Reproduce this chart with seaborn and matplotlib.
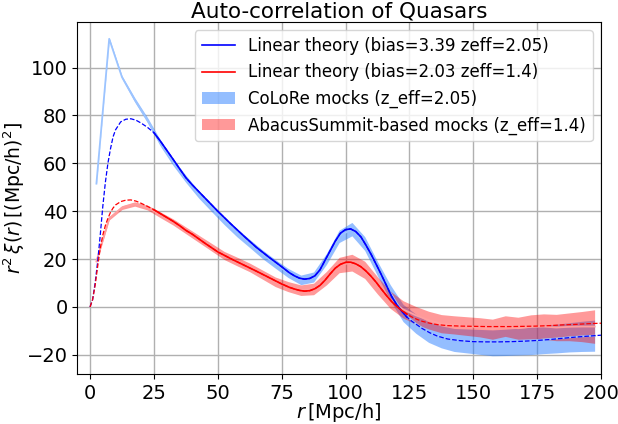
import numpy as np
import pandas as pd
import seaborn as sns
import matplotlib
matplotlib.use("Agg")
import matplotlib.pyplot as plt

# linear theory curves
r_theory = [0, 1, 2, 3, 4, 5, 6, 7, 8, 9, 10, 12, 14, 16, 18, 20, 22.5, 25,
            27.5, 30, 32.5, 35, 37.5, 40, 45, 50, 55, 60, 65, 70, 75, 78, 80,
            82, 84, 86, 88, 90, 92, 94, 96, 98, 100, 102, 104, 106, 108, 110,
            112, 114, 116, 118, 120, 122, 124, 126, 128, 130, 133, 136, 140,
            145, 150, 155, 160, 165, 170, 175, 180, 185, 190, 195, 200]
xi_colore_theory = [0, 3, 10, 19, 30, 42, 52, 60, 66, 71, 74, 77.3, 78.4, 78.6,
                    78, 76.8, 75, 72.8, 69.3, 65.5, 61.7, 57.8, 54, 51, 45.5,
                    40, 34.8, 29.8, 25, 20.8, 16.8, 14.3, 13, 12, 11.6, 11.9,
                    13, 15.5, 19.5, 23.5, 27.5, 30.8, 32.3, 32.6, 31.5, 29.3,
                    25.8, 22, 17.8, 13.5, 9, 4.5, 1, -1.8, -4.2, -6, -7.5, -9,
                    -10.8, -12.2, -13.4, -14.1, -14.5, -14.6, -14.6, -14.5,
                    -14.3, -14.0, -13.6, -13.1, -12.6, -12.2, -11.8]
xi_abacus_theory = [0, 3, 9, 17, 24.5, 30, 34, 37, 39.5, 41.3, 42.6, 44, 44.6,
                    44.7, 44.2, 43.3, 42, 40.6, 39, 37.4, 35.8, 34, 32, 30.4,
                    26.6, 23, 20.2, 17.6, 15, 12.3, 9.6, 8.2, 7.5, 6.9, 6.6,
                    6.8, 7.6, 9, 11.2, 13.8, 16.2, 17.8, 18.6, 18.7, 18, 16.8,
                    15, 12.8, 10.3, 7.5, 4.8, 2.3, 0.3, -1.5, -3, -4.2, -5.2,
                    -6, -6.8, -7.4, -7.8, -8, -8.1, -8.2, -8.2, -8.2, -8.1,
                    -8.0, -7.8, -7.5, -7.3, -7.0, -6.8]

# mock measurements, 5 Mpc/h bins
r_mocks = [2.5, 7.5, 12.5, 17.5, 22.5, 27.5, 32.5, 37.5, 42.5, 47.5, 52.5,
           57.5, 62.5, 67.5, 72.5, 77.5, 82.5, 87.5, 92.5, 97.5, 102.5, 107.5,
           112.5, 117.5, 122.5, 127.5, 132.5, 137.5, 142.5, 147.5, 152.5,
           157.5, 162.5, 167.5, 172.5, 177.5, 182.5, 187.5, 192.5, 197.5]
xi_colore = [51.5, 112, 96, 86.5, 78, 68.5, 60.5, 53.5, 47, 41.5, 36, 31,
             26.5, 22, 18, 14.2, 11.3, 12.5, 20, 29.5, 32.5, 26.5, 16, 6,
             -2.5, -7, -10.5, -12.5, -13.8, -14.2, -14.6, -15, -14.8, -14.5,
             -14.2, -13.6, -13.2, -12.7, -12.3, -12]
err_colore = [0.4, 0.5, 0.6, 0.9, 1.1, 1.3, 1.4, 1.5, 1.5, 1.6, 1.6, 1.7, 1.7,
              1.8, 1.8, 1.9, 2.0, 2.1, 2.3, 2.6, 2.8, 2.9, 3.0, 3.3, 3.6, 4.0,
              4.3, 4.6, 4.8, 5.0, 5.2, 5.4, 5.5, 5.6, 5.7, 5.9, 6.0, 6.1, 6.3,
              6.5]
xi_abacus = [19, 37, 41.5, 43, 41.5, 38.5, 35.5, 32, 28.5, 25, 21.5, 19, 16.5,
             13.5, 10.5, 8.5, 7, 7.5, 12, 17.5, 18.5, 15.5, 9, 3, -1, -3.5,
             -5.5, -7, -7.5, -8, -8.5, -9.3, -8.0, -8.9, -8.3, -8.2, -8.6,
             -8.3, -8.2, -8.2]
err_abacus = [0.6, 0.7, 0.8, 0.9, 1.0, 1.2, 1.3, 1.4, 1.5, 1.6, 1.7, 1.8, 1.8,
              1.9, 2.0, 2.1, 2.2, 2.4, 2.8, 3.2, 3.5, 3.6, 3.6, 3.6, 3.6, 3.7,
              3.7, 3.8, 3.8, 3.9, 4.0, 4.2, 4.3, 4.6, 5.0, 5.3, 5.5, 5.8, 6.3,
              7.0]

x_ticks = [0, 25, 50, 75, 100, 125, 150, 175, 200]
y_ticks = [-20, 0, 20, 40, 60, 80, 100]

fit_min, fit_max = 25, 125

theory = pd.DataFrame({"r": r_theory,
                       "colore": xi_colore_theory,
                       "abacus": xi_abacus_theory})
fit = theory[(theory.r >= fit_min) & (theory.r <= fit_max)]
mocks = pd.DataFrame({"r": r_mocks,
                      "colore": xi_colore, "colore_err": err_colore,
                      "abacus": xi_abacus, "abacus_err": err_abacus})

fig = plt.figure(figsize=(6.18, 4.24), dpi=100)
ax = fig.add_axes([0.125, 0.118, 0.8475, 0.83])

# solid theory in the fit range (these give the legend entries)
sns.lineplot(data=fit, x="r", y="colore", color="blue", lw=1.2, ax=ax,
             label="Linear theory (bias=3.39 zeff=2.05)", zorder=4)
sns.lineplot(data=fit, x="r", y="abacus", color="red", lw=1.2, ax=ax,
             label="Linear theory (bias=2.03 zeff=1.4)", zorder=4)
# full theory dashed
sns.lineplot(data=theory, x="r", y="colore", color="blue", lw=0.9, ls="--",
             ax=ax, zorder=3)
sns.lineplot(data=theory, x="r", y="abacus", color="red", lw=0.9, ls="--",
             ax=ax, zorder=3)
# mock means, in the band tint
sns.lineplot(data=mocks, x="r", y="abacus", color="#ff9f9f", lw=1.3, ax=ax,
             zorder=2.4)
sns.lineplot(data=mocks, x="r", y="colore", color="#9cc4ff", lw=1.3, ax=ax,
             zorder=2.5)

ax.fill_between(mocks.r, mocks.colore - mocks.colore_err,
                mocks.colore + mocks.colore_err, color="#2a7fff", alpha=0.5,
                lw=0, label="CoLoRe mocks (z_eff=2.05)", zorder=2)
ax.fill_between(mocks.r, mocks.abacus - mocks.abacus_err,
                mocks.abacus + mocks.abacus_err, color="red", alpha=0.4,
                lw=0, label="AbacusSummit-based mocks (z_eff=1.4)", zorder=2)

ax.set_xlim(-5, 200)
ax.set_ylim(-28, 119)
ax.set_xticks(x_ticks)
ax.set_yticks(y_ticks)
ax.grid(True, color="#b0b0b0", lw=1)
ax.set_axisbelow(True)
ax.tick_params(labelsize=14)
ax.set_xlabel(r"$r\,$[Mpc/h]", fontsize=14, labelpad=-1)
ax.set_ylabel(r"$r^2\,\xi(r)\,[(\mathrm{Mpc/h})^2]$", fontsize=13.5,
              labelpad=0)
ax.set_title("Auto-correlation of Quasars", fontsize=15.5, pad=3)
ax.legend(loc="upper right", fontsize=12)

fig.savefig("out.png", dpi=100)
plt.close(fig)
